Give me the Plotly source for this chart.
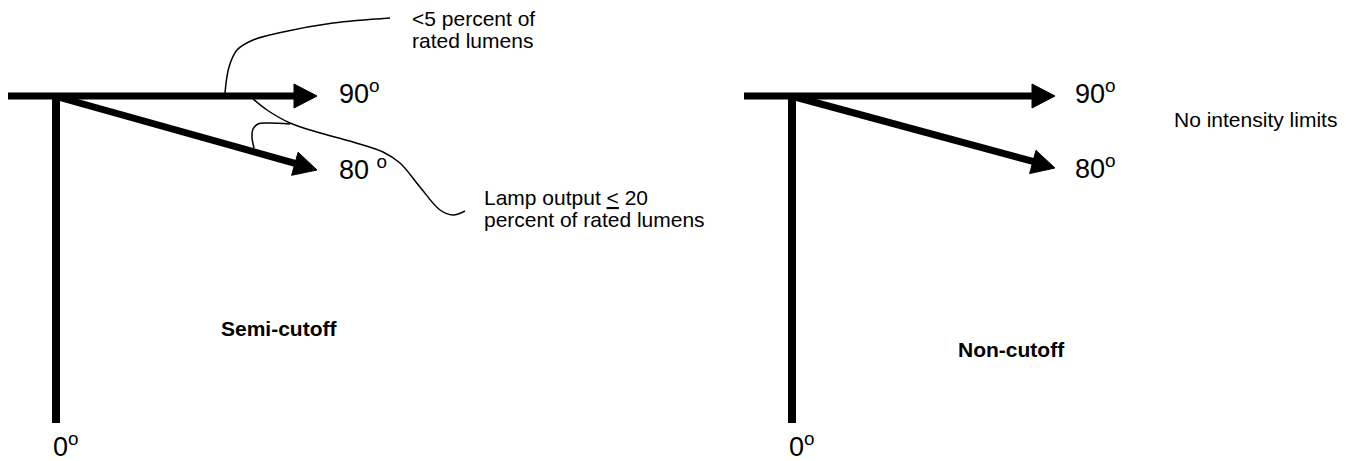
import numpy as np
import plotly.graph_objects as go

W, H = 1346, 461

# ---- diagram geometry (pixel coordinates, y downwards) ----
# thick arrows: tail and tip
left_arrows_tail = [(8, 96), (58, 97)]
left_arrows_tip = [(317, 96), (317, 170)]
right_arrows_tail = [(744, 96), (795, 97)]
right_arrows_tip = [(1055, 96), (1055, 168)]

# vertical (nadir) lines
left_vertical_x = [56, 56]
left_vertical_y = [93, 423]
right_vertical_x = [792, 792]
right_vertical_y = [93, 423]

# thin leader curves (left diagram)
leader_upper_x = [225, 229, 237, 253, 283, 333, 390]
leader_upper_y = [93, 67, 50, 40, 32, 23, 18]
leader_lower_x = [253, 267, 290, 317, 353, 383, 400, 420, 440, 453, 465]
leader_lower_y = [99, 110, 123, 132, 142, 152, 163, 187, 210, 215, 211]
leader_hook_x = [254, 252, 253, 258, 268, 290]
leader_hook_y = [148, 137, 129, 124, 123, 124]

# ---- texts ----
angle_labels = ["90<sup>o</sup>", "80 <sup>o</sup>", "0<sup>o</sup>",
                "90<sup>o</sup>", "80<sup>o</sup>", "0<sup>o</sup>"]
angle_x = [337, 337, 51, 1073, 1073, 787]
angle_y = [92, 168, 445, 92, 167, 445]

note_labels = ["<5 percent of", "rated lumens",
               "Lamp output <u>&lt;</u> 20", "percent of rated lumens",
               "No intensity limits"]
note_x = [410, 410, 482, 482, 1172]
note_y = [18, 40, 197, 219, 119]

title_labels = ["<b>Semi-cutoff</b>", "<b>Non-cutoff</b>"]
title_x = [219, 956]
title_y = [328, 349]

FONT = "Arial, Liberation Sans, sans-serif"
LW = 7


def head(tail, tip, length=23, half=12):
    t = np.array(tail, float)
    p = np.array(tip, float)
    d = (p - t) / np.linalg.norm(p - t)
    n = np.array([-d[1], d[0]])
    b = p - d * length
    pts = [b + n * half, p, b - n * half, b + n * half]
    return [q[0] for q in pts], [q[1] for q in pts], b


fig = go.Figure()

for tails, tips in [(left_arrows_tail, left_arrows_tip), (right_arrows_tail, right_arrows_tip)]:
    for tail, tip in zip(tails, tips):
        hx, hy, base = head(tail, tip)
        fig.add_trace(go.Scatter(x=[tail[0], base[0] + 2], y=[tail[1], base[1]],
                                 mode="lines", line=dict(color="black", width=LW),
                                 hoverinfo="skip"))
        fig.add_trace(go.Scatter(x=hx, y=hy, mode="lines", fill="toself",
                                 fillcolor="black", line=dict(color="black", width=1),
                                 hoverinfo="skip"))

for vx, vy in [(left_vertical_x, left_vertical_y), (right_vertical_x, right_vertical_y)]:
    fig.add_trace(go.Scatter(x=vx, y=vy, mode="lines",
                             line=dict(color="black", width=LW + 1), hoverinfo="skip"))

for cx, cy in [(leader_upper_x, leader_upper_y), (leader_lower_x, leader_lower_y),
               (leader_hook_x, leader_hook_y)]:
    fig.add_trace(go.Scatter(x=cx, y=cy, mode="lines",
                             line=dict(color="black", width=1.5, shape="spline", smoothing=1),
                             hoverinfo="skip"))

annotations = []
for t, x, y in zip(angle_labels, angle_x, angle_y):
    annotations.append(dict(text=t, x=x, y=y, xref="x", yref="y", showarrow=False,
                            xanchor="left", yanchor="middle",
                            font=dict(family=FONT, size=27, color="black")))
for t, x, y in zip(note_labels, note_x, note_y):
    annotations.append(dict(text=t, x=x, y=y, xref="x", yref="y", showarrow=False,
                            xanchor="left", yanchor="middle",
                            font=dict(family=FONT, size=21, color="black")))
for t, x, y in zip(title_labels, title_x, title_y):
    annotations.append(dict(text=t, x=x, y=y, xref="x", yref="y", showarrow=False,
                            xanchor="left", yanchor="middle",
                            font=dict(family=FONT, size=21, color="black")))

fig.update_layout(
    width=W, height=H,
    margin=dict(l=0, r=0, t=0, b=0),
    paper_bgcolor="white", plot_bgcolor="white",
    showlegend=False,
    xaxis=dict(range=[0, W], visible=False, fixedrange=True),
    yaxis=dict(range=[H, 0], visible=False, fixedrange=True),
    annotations=annotations,
)

fig.write_html("out.html", config={"displayModeBar": False},
               post_script="document.body.style.margin='0';document.body.style.overflow='hidden';")
